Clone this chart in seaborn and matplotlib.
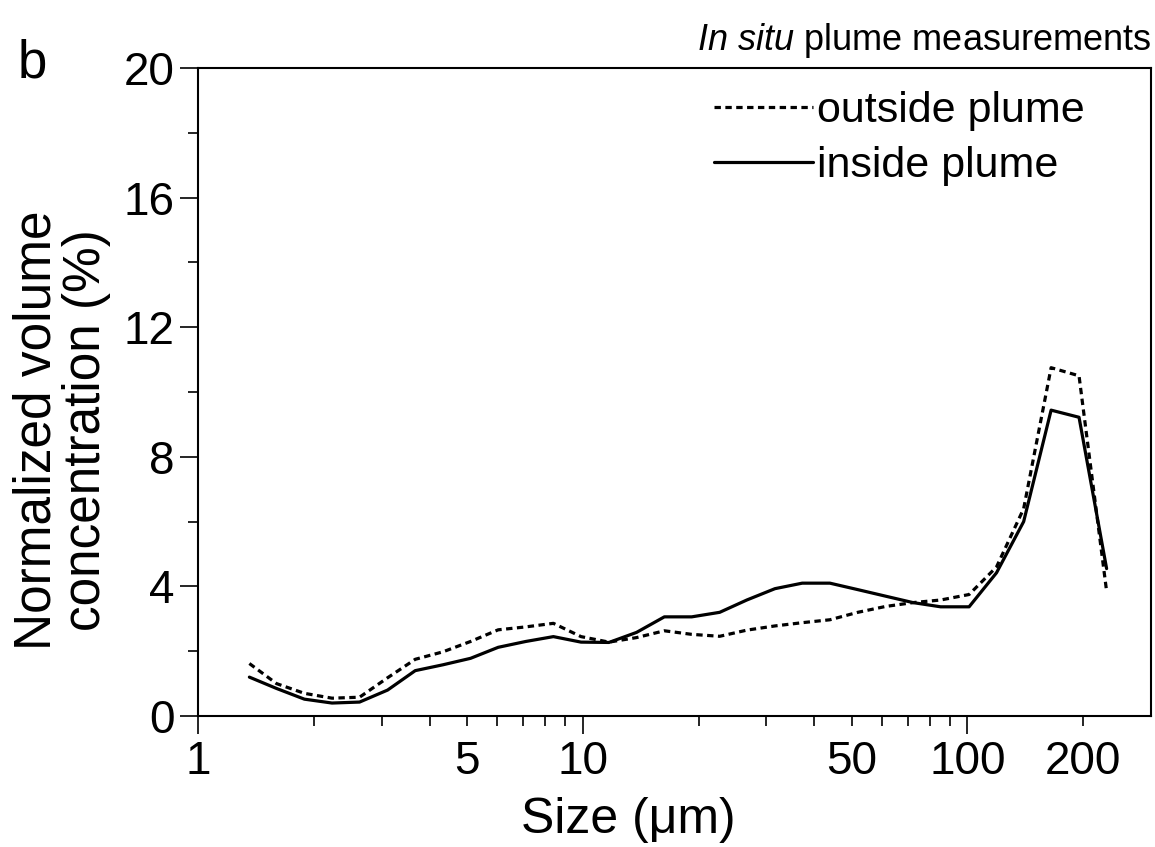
import matplotlib
matplotlib.use("Agg")
import matplotlib.pyplot as plt
import pandas as pd
import seaborn as sns
from matplotlib.ticker import FixedLocator, FixedFormatter, MultipleLocator

# LISST size-bin midpoints (µm)
size_um = [1.36, 1.60, 1.89, 2.23, 2.63, 3.11, 3.67, 4.33, 5.11, 6.03, 7.11, 8.39,
           9.90, 11.7, 13.8, 16.3, 19.2, 22.7, 26.7, 31.6, 37.2, 43.9, 51.9, 61.2,
           72.2, 85.2, 101, 119, 140, 165, 195, 230]

# Normalized volume concentration (%)
outside = [1.62, 1.00, 0.70, 0.55, 0.58, 1.18, 1.75, 1.98, 2.30, 2.66, 2.75, 2.86,
           2.45, 2.28, 2.42, 2.63, 2.52, 2.46, 2.65, 2.78, 2.88, 2.97, 3.20, 3.38,
           3.50, 3.58, 3.75, 4.60, 6.40, 10.75, 10.50, 3.85]
inside = [1.20, 0.85, 0.52, 0.40, 0.43, 0.80, 1.40, 1.58, 1.78, 2.12, 2.30, 2.45,
          2.28, 2.27, 2.58, 3.06, 3.06, 3.20, 3.58, 3.93, 4.10, 4.10, 3.90, 3.70,
          3.50, 3.37, 3.37, 4.42, 6.00, 9.44, 9.22, 4.55]

series_names = ["outside plume", "inside plume"]

x_major = [1, 10, 100]
x_major_labels = ["1", "10", "100"]
x_minor = [2, 3, 4, 5, 6, 7, 8, 9, 20, 30, 40, 50, 60, 70, 80, 90, 200]
x_minor_labels = {5: "5", 50: "50", 200: "200"}

sns.set_style("ticks")
plt.rcParams["font.family"] = ["Liberation Sans", "DejaVu Sans"]
plt.rcParams["mathtext.fontset"] = "custom"
plt.rcParams["mathtext.rm"] = "Liberation Sans"
plt.rcParams["mathtext.it"] = "Liberation Sans:italic"
for key in ["text.color", "axes.labelcolor", "xtick.color", "ytick.color", "axes.edgecolor"]:
    plt.rcParams[key] = "black"

df = pd.DataFrame({
    "size": size_um + size_um,
    "value": outside + inside,
    "series": [series_names[0]] * len(size_um) + [series_names[1]] * len(size_um),
})

W, H = 1155, 847
fig = plt.figure(figsize=(W / 100, H / 100), dpi=100)
ax = fig.add_axes([198 / W, 1 - 716 / H, (1151 - 198) / W, (716 - 68) / H])

sns.lineplot(data=df, x="size", y="value", style="series", style_order=series_names,
             dashes={series_names[0]: (2, 1.4), series_names[1]: ""},
             color="black", linewidth=2.3, ax=ax)

ax.set_xscale("log")
ax.set_xlim(1, 300)
ax.set_ylim(0, 20)

ax.xaxis.set_major_locator(FixedLocator(x_major))
ax.xaxis.set_major_formatter(FixedFormatter(x_major_labels))
ax.xaxis.set_minor_locator(FixedLocator(x_minor))
ax.xaxis.set_minor_formatter(FixedFormatter([x_minor_labels.get(m, "") for m in x_minor]))
ax.yaxis.set_major_locator(MultipleLocator(4))
ax.yaxis.set_minor_locator(MultipleLocator(2))

maj_len, min_len, pad = 13, 7, 4
ax.tick_params(which="major", length=maj_len, width=1.2, labelsize=33, pad=pad,
               direction="out", colors="black")
ax.tick_params(which="minor", length=min_len, width=1.2, labelsize=33,
               direction="out", colors="black")
ax.tick_params(axis="x", which="minor", pad=pad + maj_len - min_len)
for s in ax.spines.values():
    s.set_visible(True)
    s.set_linewidth(1.5)
    s.set_color("black")

ax.set_xlabel("")
ax.set_ylabel("")
fig.text(628 / W, 1 - 820 / H, "Size (μm)", ha="center", va="center", fontsize=36)
fig.text(62 / W, 1 - 430 / H, "Normalized volume\nconcentration (%)", rotation=90,
         ha="center", va="center", fontsize=37, linespacing=1.0, multialignment="center")

ax.set_title(r"$\mathit{In\ situ}$ plume measurements", loc="right", fontsize=26, pad=13)
fig.text(18 / W, 1 - 77 / H, "b", fontsize=38, ha="left", va="baseline")

handles, labels = ax.get_legend_handles_labels()
pairs = [(h, l) for h, l in zip(handles, labels) if l in series_names]
ax.legend([p[0] for p in pairs], [p[1] for p in pairs], loc="upper right",
          bbox_to_anchor=(0.931, 0.965), frameon=False, fontsize=31, handlelength=2.3,
          handletextpad=0.1, labelspacing=0.35, borderpad=0, borderaxespad=0)

fig.savefig("out.png", dpi=100)
